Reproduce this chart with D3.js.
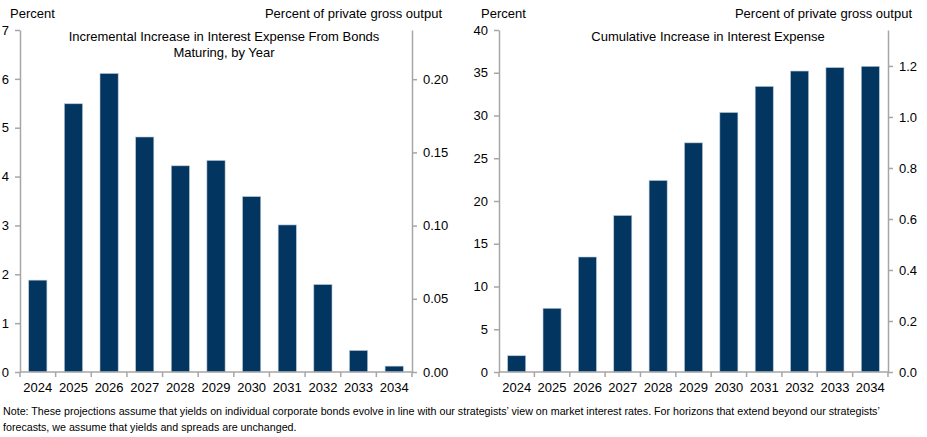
<!DOCTYPE html>
<html lang="en">
<head>
  <meta charset="UTF-8" />
  <title>Interest Expense From Bonds Maturing</title>
  <style>
    body { margin: 0; background: #fff; }
    svg { display: block; font-family: "Liberation Sans", Arial, sans-serif; }
    .axis path, .axis line { stroke: #a6a6a6; stroke-width: 1.5px; }
    .axis text { font-size: 13px; fill: #000; }
    .bar { fill: #023560; stroke: #b8c6d4; stroke-width: 0.6px; }
    .lbl { font-size: 13px; fill: #000; }
    .note { font-size: 10.7px; fill: #000; }
  </style>
  <script src="https://d3js.org/d3.v7.min.js"></script>
</head>
<body>
  <svg id="chart" width="927" height="437"></svg>

  <script>
    // ---------- data ----------
    const years = ["2024", "2025", "2026", "2027", "2028", "2029", "2030", "2031", "2032", "2033", "2034"];
    // incremental increase (percent)
    const incremental = [1.88, 5.49, 6.11, 4.81, 4.22, 4.33, 3.59, 3.01, 1.79, 0.44, 0.12];
    // cumulative increase (percent)
    const cumulative = [1.9, 7.45, 13.45, 18.3, 22.4, 26.8, 30.35, 33.4, 35.2, 35.6, 35.75];

    const leftTicks = [0, 1, 2, 3, 4, 5, 6, 7];
    const leftRightTicks = [0, 0.05, 0.10, 0.15, 0.20];
    const rightTicks = [0, 5, 10, 15, 20, 25, 30, 35, 40];
    const rightRightTicks = [0, 0.2, 0.4, 0.6, 0.8, 1.0, 1.2];

    const noteLines = [
      "Note: These projections assume that yields on individual corporate bonds evolve in line with our strategists\u2019 view on market interest rates. For horizons that extend beyond our strategists\u2019",
      "forecasts, we assume that yields and spreads are unchanged."
    ];

    const svg = d3.select("#chart");
    const plotTop = 30, plotBottom = 372;

    function drawPanel(cfg) {
      const g = svg.append("g");

      const x = d3.scaleBand()
        .domain(years)
        .range([cfg.x0, cfg.x1])
        .paddingInner(0.49)
        .paddingOuter(0.245);

      const y = d3.scaleLinear().domain(cfg.yDomain).range([plotBottom, plotTop]);
      const y2 = d3.scaleLinear().domain(cfg.y2Domain).range([plotBottom, plotTop]);

      // bars
      g.selectAll("rect.bar")
        .data(cfg.values)
        .enter()
        .append("rect")
        .attr("class", "bar")
        .attr("x", (d, i) => x(years[i]))
        .attr("width", x.bandwidth())
        .attr("y", d => y(d))
        .attr("height", d => y(0) - y(d));

      // left axis
      g.append("g")
        .attr("class", "axis")
        .attr("transform", `translate(${cfg.x0},0)`)
        .call(d3.axisLeft(y).tickValues(cfg.yTicks).tickSize(5).tickSizeOuter(0).tickPadding(6).tickFormat(d3.format("d")));

      // right axis
      g.append("g")
        .attr("class", "axis")
        .attr("transform", `translate(${cfg.x1},0)`)
        .call(d3.axisRight(y2).tickValues(cfg.y2Ticks).tickSize(5).tickSizeOuter(0).tickPadding(6).tickFormat(d3.format(cfg.y2Format)));

      // bottom axis: ticks between categories
      const boundaries = d3.range(years.length + 1).map(i => cfg.x0 + i * (cfg.x1 - cfg.x0) / years.length);
      const xa = g.append("g").attr("class", "axis");
      xa.append("line")
        .attr("x1", cfg.x0).attr("x2", cfg.x1)
        .attr("y1", plotBottom).attr("y2", plotBottom);
      xa.selectAll("line.tk")
        .data(boundaries)
        .enter()
        .append("line")
        .attr("class", "tk")
        .attr("x1", d => d).attr("x2", d => d)
        .attr("y1", plotBottom).attr("y2", plotBottom + 5);
      xa.selectAll("text")
        .data(years)
        .enter()
        .append("text")
        .attr("x", d => x(d) + x.bandwidth() / 2)
        .attr("y", 392)
        .attr("text-anchor", "middle")
        .text(d => d);

      // unit labels
      g.append("text").attr("class", "lbl")
        .attr("x", cfg.unitLeftX).attr("y", 18)
        .text("Percent");
      g.append("text").attr("class", "lbl")
        .attr("x", cfg.unitRightX).attr("y", 18)
        .attr("text-anchor", "end")
        .text("Percent of private gross output");

      // title
      const t = g.append("text").attr("class", "lbl")
        .attr("text-anchor", "middle");
      cfg.title.forEach((line, i) => {
        t.append("tspan")
          .attr("x", cfg.titleX)
          .attr("y", 40.5 + i * 16)
          .text(line);
      });
    }

    drawPanel({
      x0: 20, x1: 412,
      values: incremental,
      yDomain: [0, 7], yTicks: leftTicks,
      y2Domain: [0, 0.2336], y2Ticks: leftRightTicks, y2Format: ".2f",
      unitLeftX: 10, unitRightX: 442,
      title: ["Incremental Increase in Interest Expense From Bonds", "Maturing, by Year"],
      titleX: 224
    });

    drawPanel({
      x0: 499, x1: 888,
      values: cumulative,
      yDomain: [0, 40], yTicks: rightTicks,
      y2Domain: [0, 1.341], y2Ticks: rightRightTicks, y2Format: ".1f",
      unitLeftX: 481, unitRightX: 912,
      title: ["Cumulative Increase in Interest Expense"],
      titleX: 708
    });

    // note
    svg.append("g").selectAll("text")
      .data(noteLines)
      .enter()
      .append("text")
      .attr("class", "note")
      .attr("x", 3)
      .attr("y", (d, i) => 415 + i * 16)
      .text(d => d);
  </script>
</body>
</html>
